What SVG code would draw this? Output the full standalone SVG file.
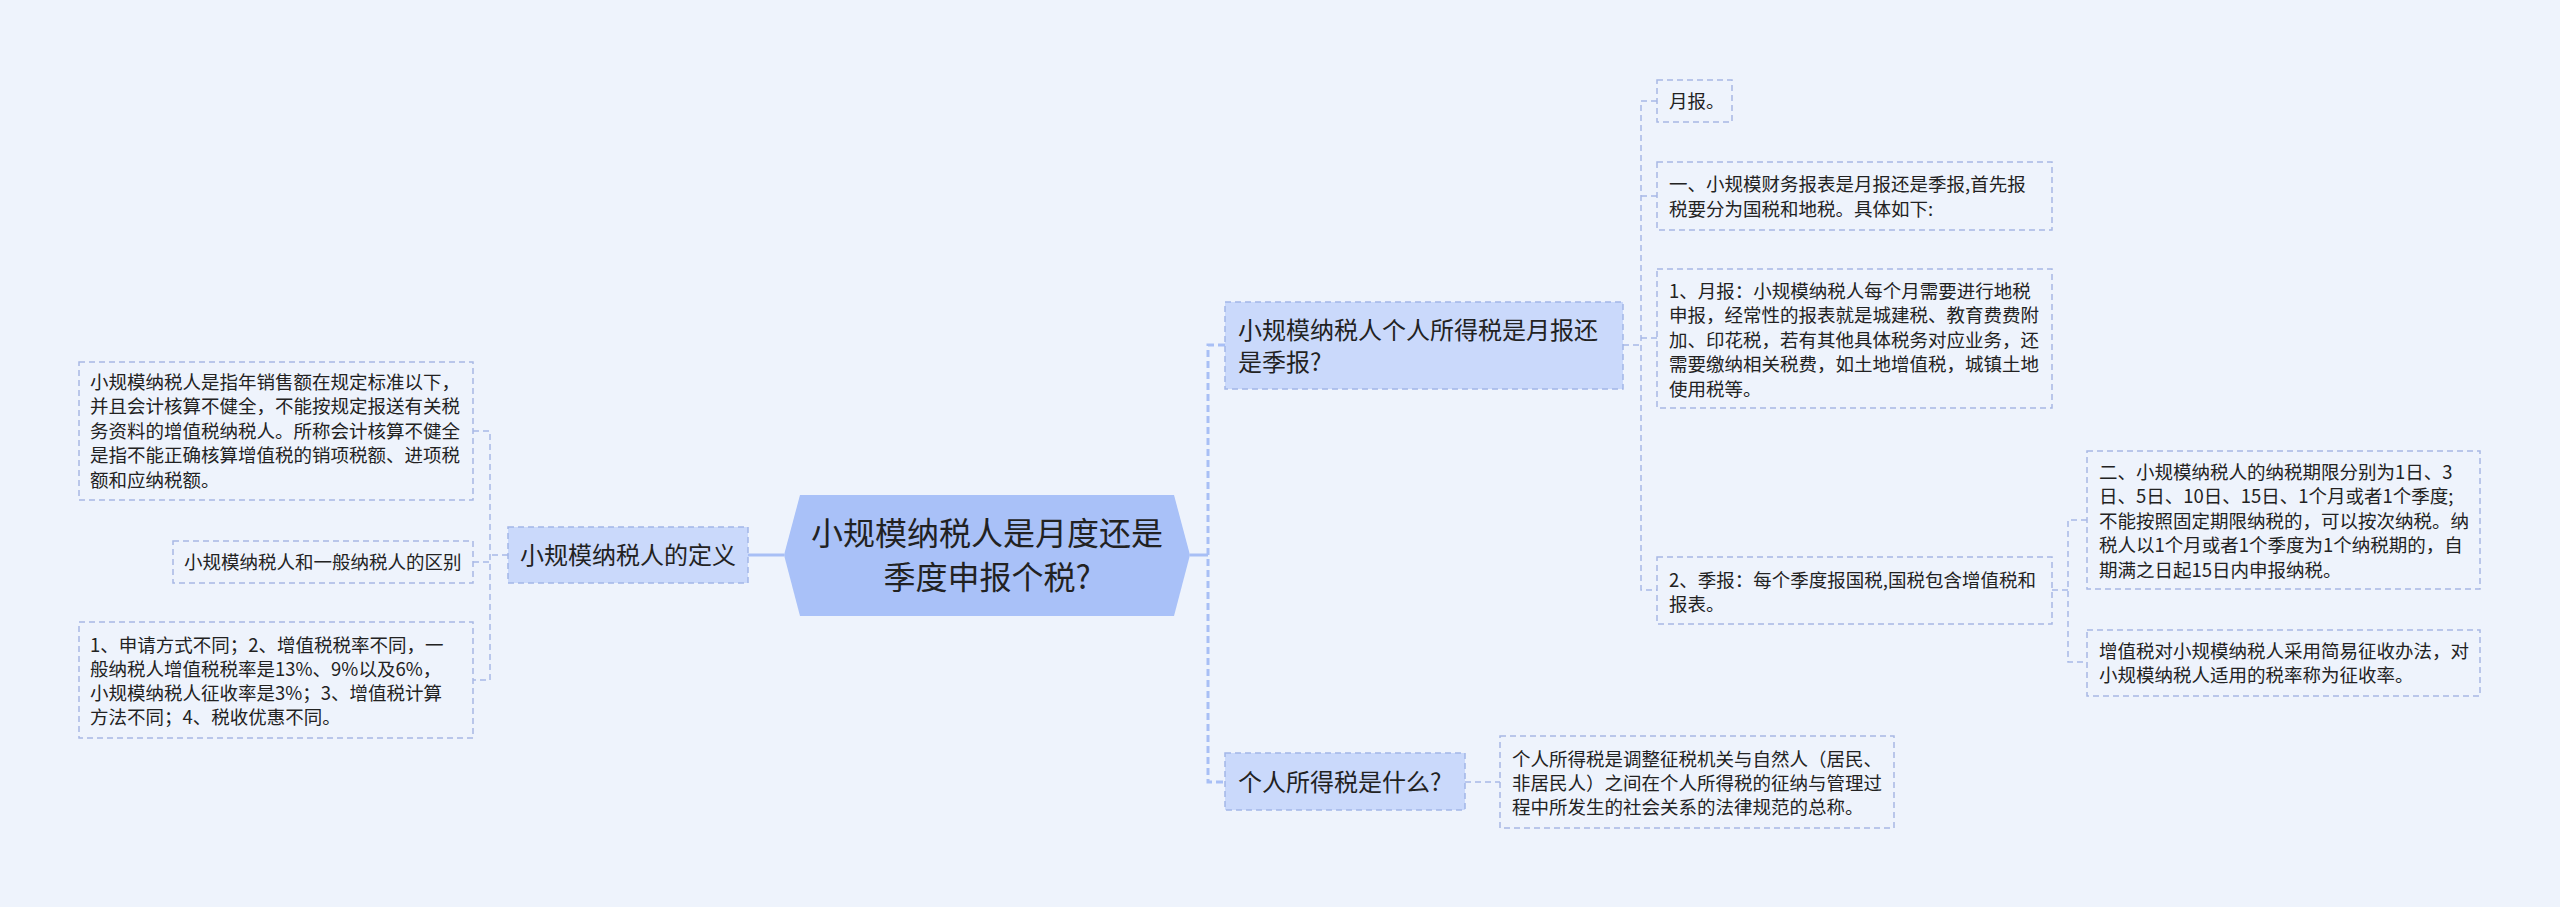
<svg xmlns="http://www.w3.org/2000/svg" width="2560" height="907" viewBox="0 0 2560 907">
<style>
.bg{fill:#eef3fc}
.t{font-family:"Noto Sans CJK SC","Noto Sans",sans-serif;fill:#222}
.leaf{fill:#eef3fc;stroke:#a8b8e4;stroke-width:1.5;stroke-dasharray:6 4}
.l1{fill:#cad9fb;stroke:#a3b6e8;stroke-width:1.5;stroke-dasharray:6 4}
.root{fill:#a9c1f8}
.c{fill:none;stroke:#a8b9e6;stroke-width:1.5;stroke-dasharray:6 4}
.cm{fill:none;stroke:#a8bff5;stroke-width:3;stroke-dasharray:7 4}
.cs{fill:none;stroke:#a8bff5;stroke-width:3}
.s18{font-size:18.5px}
.s24{font-size:24px}
.s32{font-size:32px}
</style>
<rect class="bg" x="0" y="0" width="2560" height="907"/>

<g id="connectors">
  <!-- root to left level1 -->
  <path class="cs" d="M784 555 H748"/>
  <!-- root to right vertical -->
  <path class="cs" d="M1190 555 H1208"/>
  <path class="cm" d="M1225 345 H1208 V782 H1225"/>
  <!-- left level1 to children -->
  <path class="c" d="M508 555 H490"/>
  <path class="c" d="M473 431 H490 V680 H473"/>
  <path class="c" d="M473 562 H490"/>
  <!-- A to children -->
  <path class="c" d="M1623 345 H1641"/>
  <path class="c" d="M1657 101 H1641 V590 H1657"/>
  <path class="c" d="M1641 196 H1657"/>
  <path class="c" d="M1641 338 H1657"/>
  <!-- A4 to children -->
  <path class="c" d="M2052 590 H2068"/>
  <path class="c" d="M2087 520 H2068 V662 H2087"/>
  <!-- B to child -->
  <path class="c" d="M1465 782 H1500"/>
</g>

<g id="root">
  <polygon class="root" points="784,555 800,495 1174,495 1190,555 1174,616 800,616"/>
  <text class="t s32" x="987" y="545" text-anchor="middle">小规模纳税人是月度还是</text>
  <text class="t s32" x="987" y="589" text-anchor="middle">季度申报个税?</text>
</g>

<g id="def">
  <rect class="l1" x="508" y="527" width="240" height="56"/>
  <text class="t s24" x="628" y="564" text-anchor="middle">小规模纳税人的定义</text>
</g>

<g id="def-1">
  <rect class="leaf" x="79" y="362" width="394" height="138"/>
  <text class="t s18" x="90" y="388.5">小规模纳税人是指年销售额在规定标准以下，</text>
  <text class="t s18" x="90" y="413">并且会计核算不健全，不能按规定报送有关税</text>
  <text class="t s18" x="90" y="437.5">务资料的增值税纳税人。所称会计核算不健全</text>
  <text class="t s18" x="90" y="462">是指不能正确核算增值税的销项税额、进项税</text>
  <text class="t s18" x="90" y="486.5">额和应纳税额。</text>
</g>

<g id="def-2">
  <rect class="leaf" x="173" y="541" width="300" height="42"/>
  <text class="t s18" x="184" y="568.5">小规模纳税人和一般纳税人的区别</text>
</g>

<g id="def-3">
  <rect class="leaf" x="79" y="622" width="394" height="116"/>
  <text class="t s18" x="90" y="651.5">1、申请方式不同；2、增值税税率不同，一</text>
  <text class="t s18" x="90" y="675.5">般纳税人增值税税率是13%、9%以及6%，</text>
  <text class="t s18" x="90" y="699.5">小规模纳税人征收率是3%；3、增值税计算</text>
  <text class="t s18" x="90" y="723.5">方法不同；4、税收优惠不同。</text>
</g>

<g id="A">
  <rect class="l1" x="1225" y="302" width="398" height="87"/>
  <text class="t s24" x="1238" y="338.5">小规模纳税人个人所得税是月报还</text>
  <text class="t s24" x="1238" y="370.5">是季报?</text>
</g>

<g id="A-1">
  <rect class="leaf" x="1657" y="80" width="75" height="42"/>
  <text class="t s18" x="1669" y="107.5">月报。</text>
</g>

<g id="A-2">
  <rect class="leaf" x="1657" y="162" width="395" height="68"/>
  <text class="t s18" x="1669" y="190.5">一、小规模财务报表是月报还是季报,首先报</text>
  <text class="t s18" x="1669" y="215.5">税要分为国税和地税。具体如下:</text>
</g>

<g id="A-3">
  <rect class="leaf" x="1657" y="269" width="395" height="139"/>
  <text class="t s18" x="1669" y="297.5">1、月报：小规模纳税人每个月需要进行地税</text>
  <text class="t s18" x="1669" y="322">申报，经常性的报表就是城建税、教育费费附</text>
  <text class="t s18" x="1669" y="346.5">加、印花税，若有其他具体税务对应业务，还</text>
  <text class="t s18" x="1669" y="371">需要缴纳相关税费，如土地增值税，城镇土地</text>
  <text class="t s18" x="1669" y="395.5">使用税等。</text>
</g>

<g id="A-4">
  <rect class="leaf" x="1657" y="557" width="395" height="67"/>
  <text class="t s18" x="1669" y="586.5">2、季报：每个季度报国税,国税包含增值税和</text>
  <text class="t s18" x="1669" y="610.5">报表。</text>
</g>

<g id="A-4-1">
  <rect class="leaf" x="2087" y="451" width="393" height="138"/>
  <text class="t s18" x="2099" y="478.5">二、小规模纳税人的纳税期限分别为1日、3</text>
  <text class="t s18" x="2099" y="503">日、5日、10日、15日、1个月或者1个季度;</text>
  <text class="t s18" x="2099" y="527.5">不能按照固定期限纳税的，可以按次纳税。纳</text>
  <text class="t s18" x="2099" y="552">税人以1个月或者1个季度为1个纳税期的，自</text>
  <text class="t s18" x="2099" y="576.5">期满之日起15日内申报纳税。</text>
</g>

<g id="A-4-2">
  <rect class="leaf" x="2087" y="630" width="393" height="66"/>
  <text class="t s18" x="2099" y="657.5">增值税对小规模纳税人采用简易征收办法，对</text>
  <text class="t s18" x="2099" y="681.5">小规模纳税人适用的税率称为征收率。</text>
</g>

<g id="B">
  <rect class="l1" x="1225" y="753" width="240" height="57"/>
  <text class="t s24" x="1238" y="790.5">个人所得税是什么?</text>
</g>

<g id="B-1">
  <rect class="leaf" x="1500" y="736" width="394" height="92"/>
  <text class="t s18" x="1512" y="765.5">个人所得税是调整征税机关与自然人（居民、</text>
  <text class="t s18" x="1512" y="789.5">非居民人）之间在个人所得税的征纳与管理过</text>
  <text class="t s18" x="1512" y="813.5">程中所发生的社会关系的法律规范的总称。</text>
</g>
</svg>
